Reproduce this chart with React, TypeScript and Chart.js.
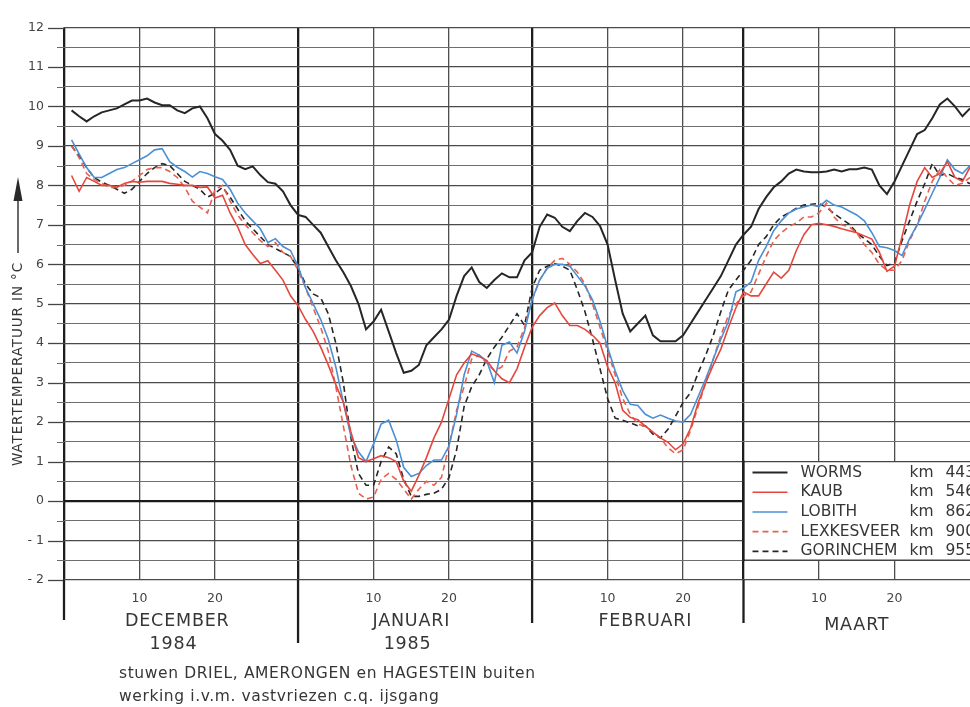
import React, { useEffect, useRef } from 'react';
import { Chart, registerables } from 'chart.js';

Chart.register(...registerables);

const FONT = '"DejaVu Sans", "Liberation Sans", Arial, sans-serif';

// Day numbering: 0 = 30 Nov 1984, 1 = 1 Dec 1984 ... 120 = 30 Mar 1985
const FIRST_DAY = 1;

const WORMS = [
  9.9, 9.75, 9.62, 9.75, 9.85, 9.9, 9.95, 10.05, 10.15, 10.15,
  10.2, 10.1, 10.03, 10.03, 9.9, 9.83, 9.95, 10.0, 9.7, 9.3,
  9.13, 8.9, 8.5, 8.41, 8.48, 8.26, 8.08, 8.04, 7.85, 7.5,
  7.25, 7.2, 7.0, 6.8, 6.45, 6.1, 5.8, 5.45, 5.0, 4.35,
  4.55, 4.85, 4.3, 3.75, 3.25, 3.3, 3.45, 3.95, 4.15, 4.35,
  4.6, 5.2, 5.7, 5.92, 5.55, 5.4, 5.6, 5.77, 5.67, 5.67,
  6.1, 6.3, 6.95, 7.26, 7.18, 6.95, 6.84, 7.1, 7.3, 7.2,
  6.97, 6.5, 5.6, 4.75, 4.3, 4.5, 4.7, 4.2, 4.05, 4.05,
  4.05, 4.2, 4.5, 4.8, 5.1, 5.4, 5.7, 6.1, 6.5, 6.75,
  6.95, 7.4, 7.7, 7.95, 8.1, 8.3, 8.4, 8.35, 8.33, 8.33,
  8.35, 8.4, 8.35, 8.41, 8.41, 8.45, 8.4, 8.0, 7.78, 8.1,
  8.5, 8.9, 9.3, 9.4, 9.7, 10.05, 10.2, 10.0, 9.75, 9.95,
];

const KAUB = [
  8.25, 7.85, 8.2, 8.1, 8.0, 8.0, 7.95, 8.05, 8.1, 8.08,
  8.1, 8.1, 8.1, 8.05, 8.03, 8.0, 8.0, 7.95, 7.96, 7.68,
  7.75, 7.3, 6.95, 6.5, 6.25, 6.02, 6.09, 5.85, 5.6, 5.2,
  4.95, 4.6, 4.3, 3.9, 3.45, 2.95, 2.5, 1.75, 1.1, 1.0,
  1.07, 1.15, 1.1, 1.0, 0.5, 0.25, 0.65, 1.1, 1.6, 2.0,
  2.6, 3.2, 3.5, 3.73, 3.66, 3.56, 3.3, 3.1, 3.0, 3.35,
  3.9, 4.4, 4.7, 4.9, 5.02, 4.7, 4.45, 4.45, 4.35, 4.2,
  4.0, 3.4, 3.0, 2.3, 2.12, 2.06, 1.9, 1.75, 1.6, 1.49,
  1.3, 1.45, 1.85, 2.5, 3.0, 3.45, 3.85, 4.4, 4.9, 5.3,
  5.2, 5.2, 5.5, 5.8, 5.65, 5.85, 6.35, 6.75, 7.0, 7.04,
  7.0, 6.96, 6.9, 6.85, 6.8, 6.72, 6.64, 6.3, 5.82, 5.95,
  6.7, 7.5, 8.1, 8.45, 8.2, 8.3, 8.6, 8.2, 8.1, 8.46,
];

const LOBITH = [
  9.15, 8.8, 8.45, 8.2, 8.2, 8.3, 8.4, 8.45, 8.55, 8.65,
  8.75, 8.9, 8.93, 8.6, 8.46, 8.35, 8.21, 8.35, 8.3, 8.22,
  8.15, 7.9, 7.55, 7.3, 7.1, 6.9, 6.55, 6.65, 6.45, 6.35,
  5.95, 5.4, 5.0, 4.6, 4.1, 3.4, 2.5, 1.65, 1.25, 1.0,
  1.45, 1.95, 2.05, 1.55, 0.85, 0.62, 0.7, 0.9, 1.04, 1.04,
  1.4, 2.2, 3.2, 3.8, 3.7, 3.55, 3.0, 3.95, 4.03, 3.75,
  4.3, 5.1, 5.6, 5.9, 6.0, 6.0, 5.95, 5.7, 5.45, 5.1,
  4.55, 3.9, 3.3, 2.8, 2.45, 2.42, 2.2, 2.1, 2.18, 2.1,
  2.03, 2.0, 2.2, 2.65, 3.1, 3.6, 4.1, 4.55, 5.3, 5.4,
  5.55, 6.1, 6.45, 6.85, 7.1, 7.3, 7.4, 7.45, 7.5, 7.46,
  7.62, 7.5, 7.45, 7.35, 7.25, 7.1, 6.8, 6.45, 6.42, 6.35,
  6.22, 6.65, 7.0, 7.39, 7.8, 8.2, 8.65, 8.4, 8.3, 8.5,
];

const LEXKESVEER = [
  9.0, 8.7, 8.3, 8.15, 8.05, 7.95, 7.95, 8.0, 8.1, 8.25,
  8.4, 8.45, 8.45, 8.35, 8.2, 7.95, 7.6, 7.45, 7.3, 7.9,
  8.0, 7.6, 7.25, 7.0, 6.8, 6.6, 6.45, 6.55, 6.3, 6.2,
  5.85, 5.4, 4.9, 4.4, 3.8, 2.9, 1.9, 0.9, 0.2, 0.05,
  0.1, 0.55, 0.7, 0.55, 0.3, 0.05, 0.3, 0.5, 0.4, 0.6,
  1.4, 2.3, 2.9, 3.6, 3.7, 3.5, 3.3, 3.4, 3.8, 3.9,
  4.4, 5.1, 5.6, 5.9, 6.1, 6.15, 6.0, 5.8, 5.5, 5.0,
  4.4, 3.8, 3.2, 2.6, 2.2, 1.95, 1.9, 1.75, 1.6, 1.35,
  1.2, 1.3, 1.8, 2.4, 3.0, 3.6, 4.2, 4.7, 5.0, 5.2,
  5.3, 5.75, 6.2, 6.6, 6.8, 6.95, 7.05, 7.2, 7.2, 7.3,
  7.55, 7.2, 7.0, 6.95, 6.8, 6.5, 6.3, 6.0, 5.85, 5.85,
  6.1, 6.6, 7.0, 7.6, 8.1, 8.4, 8.2, 8.0, 8.05, 8.2,
];

const GORINCHEM = [
  9.0, 8.75, 8.45, 8.2, 8.08, 8.0, 7.9, 7.8, 7.9, 8.1,
  8.3, 8.45, 8.55, 8.5, 8.3, 8.1, 8.0, 7.9, 7.7, 7.8,
  7.95, 7.7, 7.4, 7.1, 6.9, 6.7, 6.5, 6.4, 6.3, 6.2,
  5.9, 5.5, 5.25, 5.15, 4.75, 4.0, 3.0, 1.6, 0.7, 0.4,
  0.4, 1.0, 1.37, 1.2, 0.55, 0.12, 0.12, 0.17, 0.2, 0.3,
  0.6, 1.3, 2.4, 2.9, 3.2, 3.6, 3.9, 4.15, 4.45, 4.75,
  4.45, 5.4, 5.85, 5.95, 6.02, 5.95, 5.85, 5.35, 4.8, 4.1,
  3.35, 2.6, 2.1, 2.05, 1.98, 1.91, 1.91, 1.7, 1.6, 1.82,
  2.15, 2.5, 2.75, 3.25, 3.7, 4.2, 4.8, 5.35, 5.6, 5.85,
  6.1, 6.5, 6.7, 7.0, 7.2, 7.3, 7.42, 7.5, 7.52, 7.54,
  7.45, 7.28, 7.15, 7.02, 6.8, 6.65, 6.5, 6.2, 5.97, 6.04,
  6.6, 7.1, 7.6, 8.04, 8.55, 8.25, 8.3, 8.2, 8.15, 8.04,
];

const STATIONS = ['WORMS', 'KAUB', 'LOBITH', 'LEXKESVEER', 'GORINCHEM'];
const STATION_KM = ['443', '546', '862', '900', '955'];

const X_MIN = 0;
const X_MAX = 120;
const MONTH_STARTS = [0, 31, 62, 90];
const MONTH_NAMES = ['DECEMBER', 'JANUARI', 'FEBRUARI', 'MAART'];
const MONTH_YEARS = ['1984', '1985', '', ''];
const X_TICKS = [10, 20, 41, 51, 72, 82, 100, 110];
const X_TICK_LABELS = ['10', '20', '10', '20', '10', '20', '10', '20'];

const Y_MIN = -2;
const Y_MAX = 12;
const Y_TICKS = [
  -2, -1.5, -1, -0.5, 0, 0.5, 1, 1.5, 2, 2.5, 3, 3.5, 4, 4.5, 5, 5.5, 6, 6.5,
  7, 7.5, 8, 8.5, 9, 9.5, 10, 10.5, 11, 11.5, 12,
];
const Y_TICK_LABELS = Y_TICKS.map((v) =>
  Number.isInteger(v) ? (v < 0 ? '- ' + Math.abs(v) : String(v)) : ''
);

const Y_TITLE = 'WATERTEMPERATUUR IN °C';
const FOOTNOTE = [
  'stuwen DRIEL, AMERONGEN en HAGESTEIN buiten',
  'werking i.v.m. vastvriezen c.q. ijsgang',
];

// styles
const C_BLACK = '#262626';
const C_RED = '#e5473d';
const C_RED_D = '#e8604f';
const C_BLUE = '#4b8fd4';
const C_TEXT = '#363636';
const MONTH_DROP = [40, 63, 43, 43];

const STYLES = [
  { color: C_BLACK, width: 2, dash: [] as number[] },
  { color: C_RED, width: 1.6, dash: [] as number[] },
  { color: C_BLUE, width: 1.6, dash: [] as number[] },
  { color: C_RED_D, width: 1.6, dash: [6, 4] },
  { color: C_BLACK, width: 1.6, dash: [6, 4] },
];
const SERIES = [WORMS, KAUB, LOBITH, LEXKESVEER, GORINCHEM];

const X_GRID = [...MONTH_STARTS, ...X_TICKS].sort((a, b) => a - b);

const decorPlugin = {
  id: 'decor',
  beforeDatasetsDraw(chart: any) {
    const { ctx, chartArea: a, scales } = chart;
    const x = scales.x;
    const y = scales.y;
    ctx.save();
    Y_TICKS.forEach((v) => {
      const py = Math.round(y.getPixelForValue(v)) + 0.5;
      const major = Number.isInteger(v);
      ctx.strokeStyle = major ? '#454545' : '#6a6a6a';
      ctx.lineWidth = major ? 1.3 : 1;
      ctx.beginPath();
      ctx.moveTo(major ? a.left - 16 : a.left - 7, py);
      ctx.lineTo(a.left, py);
      ctx.stroke();
    });
    MONTH_STARTS.forEach((d, i) => {
      const px = x.getPixelForValue(d);
      ctx.strokeStyle = '#1e1e1e';
      ctx.lineWidth = 2.3;
      ctx.beginPath();
      ctx.moveTo(px, a.bottom);
      ctx.lineTo(px, a.bottom + MONTH_DROP[i]);
      ctx.stroke();
    });
    ctx.restore();
  },
  afterDatasetsDraw(chart: any) {
    const { ctx, chartArea: a, scales } = chart;
    const x = scales.x;
    const y = scales.y;
    ctx.save();

    // legend box
    const bx = x.getPixelForValue(90);
    const by0 = y.getPixelForValue(1);
    const by1 = y.getPixelForValue(-1.5);
    ctx.fillStyle = '#ffffff';
    ctx.fillRect(bx, by0, chart.width - bx + 5, by1 - by0);
    ctx.strokeStyle = '#454545';
    ctx.lineWidth = 1.3;
    ctx.beginPath();
    ctx.moveTo(bx, by0);
    ctx.lineTo(chart.width + 5, by0);
    ctx.moveTo(bx, by1);
    ctx.lineTo(chart.width + 5, by1);
    ctx.stroke();
    ctx.strokeStyle = '#1e1e1e';
    ctx.lineWidth = 2.3;
    ctx.beginPath();
    ctx.moveTo(bx, by0 - 1);
    ctx.lineTo(bx, by1 + 1);
    ctx.stroke();

    const rowH = (by1 - by0) / STATIONS.length;
    ctx.font = '15.5px ' + FONT;
    ctx.textBaseline = 'middle';
    STATIONS.forEach((name, i) => {
      const cy = by0 + rowH * (i + 0.5) + 1;
      const st = STYLES[i];
      ctx.strokeStyle = st.color;
      ctx.lineWidth = st.width;
      ctx.setLineDash(st.dash);
      ctx.beginPath();
      ctx.moveTo(bx + 9, cy);
      ctx.lineTo(bx + 44, cy);
      ctx.stroke();
      ctx.setLineDash([]);
      ctx.fillStyle = C_TEXT;
      ctx.textAlign = 'left';
      ctx.fillText(name, bx + 57, cy);
      ctx.fillText('km', bx + 166, cy);
      ctx.fillText(STATION_KM[i], bx + 202, cy);
    });

    // month names and years
    ctx.fillStyle = C_TEXT;
    ctx.textAlign = 'center';
    ctx.textBaseline = 'middle';
    ctx.font = '17.5px ' + FONT;
    (ctx as any).letterSpacing = '0.8px';
    MONTH_NAMES.forEach((m, i) => {
      const cx = x.getPixelForValue(MONTH_STARTS[i] + 15);
      const my = i === 3 ? a.bottom + 45 : a.bottom + 41;
      ctx.fillText(m, cx, my);
      if (MONTH_YEARS[i]) {
        ctx.fillText(MONTH_YEARS[i], x.getPixelForValue(MONTH_STARTS[i] + 14.5), a.bottom + 64);
      }
    });

    // footnote
    ctx.textAlign = 'left';
    ctx.font = '15.5px ' + FONT;
    (ctx as any).letterSpacing = '0.6px';
    ctx.fillText(FOOTNOTE[0], 119, a.bottom + 94);
    ctx.fillText(FOOTNOTE[1], 119, a.bottom + 117);

    // y title with arrow
    ctx.save();
    ctx.translate(18, 364);
    ctx.rotate(-Math.PI / 2);
    ctx.font = '13.5px ' + FONT;
    (ctx as any).letterSpacing = '0.9px';
    ctx.textAlign = 'center';
    ctx.fillText(Y_TITLE, 0, 0);
    ctx.restore();
    (ctx as any).letterSpacing = '0px';
    ctx.strokeStyle = '#2a2a2a';
    ctx.lineWidth = 1.4;
    ctx.beginPath();
    ctx.moveTo(18, 253);
    ctx.lineTo(18, 198);
    ctx.stroke();
    ctx.fillStyle = '#2a2a2a';
    ctx.beginPath();
    ctx.moveTo(18, 177);
    ctx.lineTo(22.5, 201);
    ctx.lineTo(13.5, 201);
    ctx.closePath();
    ctx.fill();

    ctx.restore();
  },
};

export default function App() {
  const canvasRef = useRef<HTMLCanvasElement | null>(null);

  useEffect(() => {
    if (!canvasRef.current) return;
    const datasets = SERIES.map((vals, i) => ({
      label: STATIONS[i],
      data: vals.map((v, k) => ({ x: FIRST_DAY + k, y: v })),
      borderColor: STYLES[i].color,
      borderWidth: STYLES[i].width,
      borderDash: STYLES[i].dash,
      pointRadius: 0,
      tension: 0,
      fill: false,
    }));

    const chart = new Chart(canvasRef.current, {
      type: 'line',
      data: { datasets },
      options: {
        animation: false,
        responsive: false,
        devicePixelRatio: 1,
        layout: { padding: { left: 0, right: 0, top: 17, bottom: 0 } },
        plugins: { legend: { display: false }, tooltip: { enabled: false } },
        scales: {
          x: {
            type: 'linear',
            min: X_MIN,
            max: X_MAX,
            afterBuildTicks: (s: any) => {
              s.ticks = X_GRID.map((v) => ({ value: v }));
            },
            afterFit: (s: any) => {
              s.height = 127;
            },
            border: { display: false },
            grid: {
              drawTicks: false,
              color: (c: any) => (MONTH_STARTS.includes(c.tick?.value) ? '#1e1e1e' : '#4e4e4e'),
              lineWidth: (c: any) => (MONTH_STARTS.includes(c.tick?.value) ? 2.3 : 1.3),
            },
            ticks: {
              autoSkip: false,
              maxRotation: 0,
              padding: 11,
              color: '#444',
              font: { family: FONT, size: 12.5 },
              callback: (v: any) => {
                const idx = X_TICKS.indexOf(Number(v));
                return idx >= 0 ? X_TICK_LABELS[idx] : '';
              },
            },
          },
          y: {
            type: 'linear',
            min: Y_MIN,
            max: Y_MAX,
            afterBuildTicks: (s: any) => {
              s.ticks = Y_TICKS.map((v) => ({ value: v }));
            },
            afterFit: (s: any) => {
              s.width = 64;
            },
            border: { display: false },
            grid: {
              drawTicks: false,
              color: (c: any) => {
                const v = c.tick?.value;
                if (v === 0) return '#1a1a1a';
                return Number.isInteger(v) ? '#4a4a4a' : '#6e6e6e';
              },
              lineWidth: (c: any) => {
                const v = c.tick?.value;
                if (v === 0) return 2.3;
                return Number.isInteger(v) ? 1.3 : 1;
              },
            },
            ticks: {
              autoSkip: false,
              padding: 20,
              color: '#444',
              font: { family: FONT, size: 12.5 },
              callback: (v: any) => {
                const idx = Y_TICKS.indexOf(Number(v));
                return idx >= 0 ? Y_TICK_LABELS[idx] : '';
              },
            },
          },
        },
      },
      plugins: [decorPlugin],
    });
    return () => chart.destroy();
  }, []);

  return (
    <div style={{ position: 'absolute', left: 0, top: 0, width: 970, height: 707, background: '#ffffff' }}>
      <canvas ref={canvasRef} width={970} height={707} style={{ display: 'block', width: 970, height: 707 }} />
    </div>
  );
}
